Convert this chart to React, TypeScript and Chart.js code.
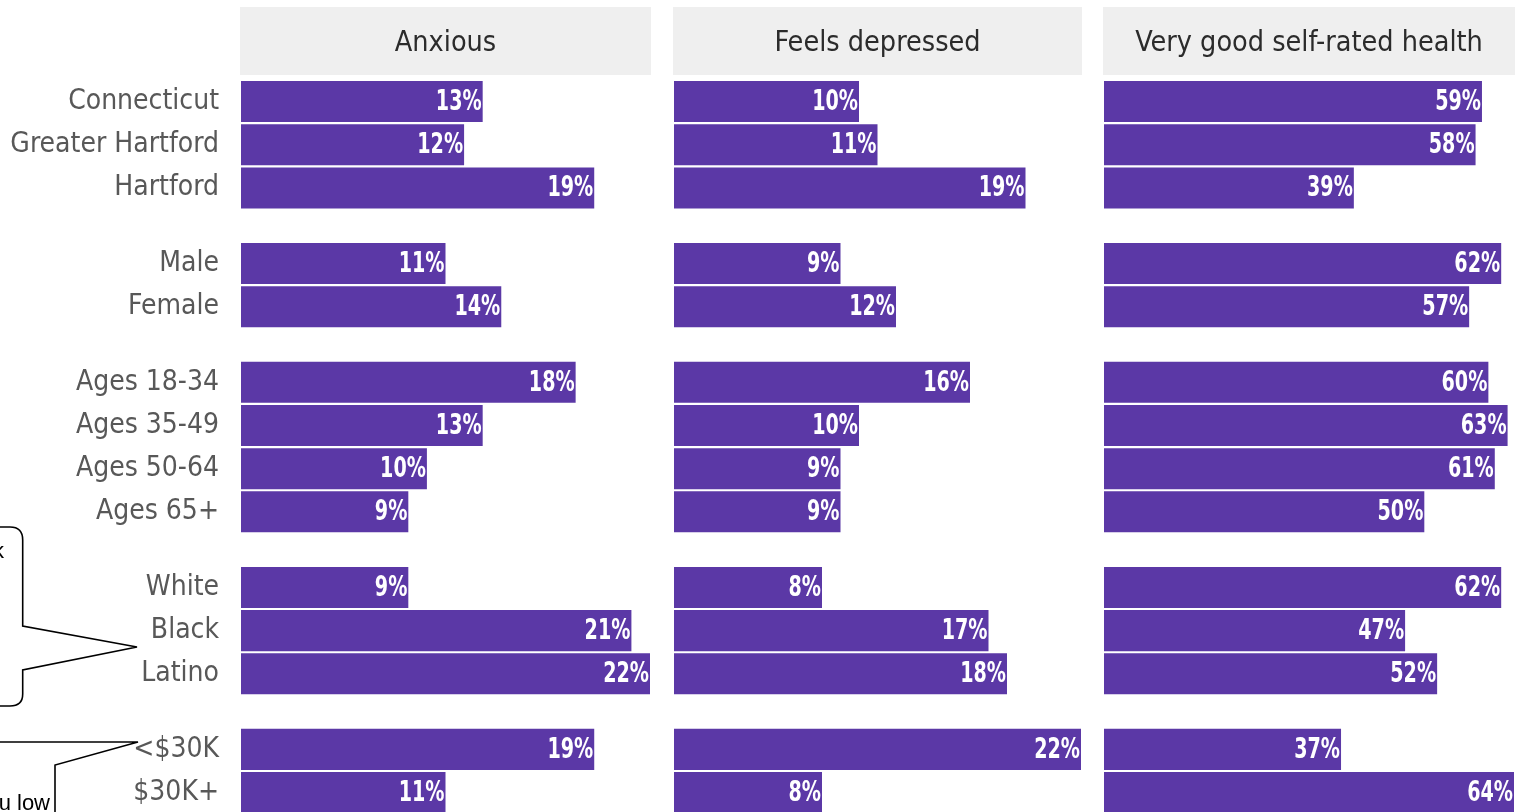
import React, { useEffect, useRef } from "react";
import { Chart, registerables } from "chart.js";

Chart.register(...registerables);

// ---------- data ----------
const categories = [
  "Connecticut",
  "Greater Hartford",
  "Hartford",
  "Male",
  "Female",
  "Ages 18-34",
  "Ages 35-49",
  "Ages 50-64",
  "Ages 65+",
  "White",
  "Black",
  "Latino",
  "<$30K",
  "$30K+",
];
const groupOf = [0, 0, 0, 1, 1, 2, 2, 2, 2, 3, 3, 3, 4, 4];
const anxious = [13, 12, 19, 11, 14, 18, 13, 10, 9, 9, 21, 22, 19, 11];
const depressed = [10, 11, 19, 9, 12, 16, 10, 9, 9, 8, 17, 18, 22, 8];
const goodHealth = [59, 58, 39, 62, 57, 60, 63, 61, 50, 62, 47, 52, 37, 64];
const panelTitles = ["Anxious", "Feels depressed", "Very good self-rated health"];

// ---------- style ----------
const GROUP_GAP = 0.75;
const positions = categories.map((_, i) => i + groupOf[i] * GROUP_GAP);
const BAR_COLOR = "#5b38a6";
const LABEL_FONT = "'DejaVu Sans Condensed', 'DejaVu Sans', sans-serif";
const VALUE_FONT = "'DejaVu Sans Condensed', 'DejaVu Sans', sans-serif";
const HEADER_FONT = "'DejaVu Sans Condensed', 'DejaVu Sans', sans-serif";

function labelFor(v: number): string {
  const idx = positions.findIndex((p) => Math.abs(p - v) < 1e-6);
  return idx >= 0 ? categories[idx] : "";
}

function headerPlugin(title: string) {
  return {
    id: "headerBox",
    beforeDraw(chart: any) {
      const { ctx, chartArea } = chart;
      const left = chartArea.left - 1;
      const right = chartArea.right + 1;
      ctx.save();
      ctx.fillStyle = "#efefef";
      ctx.fillRect(left, 7, right - left, 68);
      ctx.fillStyle = "#2b2b2b";
      ctx.font = `28.5px ${HEADER_FONT}`;
      ctx.textAlign = "center";
      ctx.textBaseline = "alphabetic";
      ctx.fillText(title, (left + right) / 2, 51);
      ctx.restore();
    },
  };
}

const valueLabels = {
  id: "valueLabels",
  afterDatasetsDraw(chart: any) {
    const ctx = chart.ctx;
    const meta = chart.getDatasetMeta(0);
    const ds = chart.data.datasets[0];
    meta.data.forEach((bar: any, i: number) => {
      const v = ds.data[i].x;
      ctx.save();
      ctx.translate(bar.x - 1, bar.y + 1);
      ctx.scale(0.76, 1);
      ctx.fillStyle = "#ffffff";
      ctx.font = `bold 28px ${VALUE_FONT}`;
      ctx.textAlign = "right";
      ctx.textBaseline = "middle";
      ctx.fillText(`${v}%`, 0, 0);
      ctx.restore();
    });
  },
};

type PanelSpec = {
  values: number[];
  title: string;
  showLabels: boolean;
  left: number;
  width: number;
};

const panels: PanelSpec[] = [
  { values: anxious, title: panelTitles[0], showLabels: true, left: 0, width: 651 },
  { values: depressed, title: panelTitles[1], showLabels: false, left: 673, width: 409 },
  { values: goodHealth, title: panelTitles[2], showLabels: false, left: 1103, width: 412 },
];

function Panel({ spec }: { spec: PanelSpec }) {
  const ref = useRef<HTMLCanvasElement | null>(null);
  useEffect(() => {
    if (!ref.current) return;
    const xMax = Math.max(...spec.values);
    const chart = new Chart(ref.current, {
      type: "bar",
      data: {
        datasets: [
          {
            data: spec.values.map((v, i) => ({ x: v, y: positions[i] })) as any,
            backgroundColor: BAR_COLOR,
            borderWidth: 0,
            categoryPercentage: 1,
            barPercentage: 0.95,
          } as any,
        ],
      },
      options: {
        indexAxis: "y",
        animation: false,
        responsive: false,
        maintainAspectRatio: false,
        layout: { padding: { top: 80, right: 1, left: spec.showLabels ? 0 : 1, bottom: 0 } },
        plugins: {
          legend: { display: false },
          tooltip: { enabled: false },
          title: { display: false },
        },
        scales: {
          x: { type: "linear", min: 0, max: xMax, display: false, offset: false },
          y: {
            type: "linear",
            reverse: true,
            offset: false,
            min: -0.5,
            max: 16.45,
            grid: { display: false, drawTicks: false, offset: false },
            border: { display: false },
            ticks: {
              display: spec.showLabels,
              autoSkip: false,
              padding: 22,
              color: "#585858",
              font: { family: LABEL_FONT, size: 28 },
              callback: (v: any) => labelFor(Number(v)),
            },
            afterBuildTicks: (s: any) => {
              s.ticks = positions.map((p) => ({ value: p }));
            },
            afterFit: (s: any) => {
              s.width = spec.showLabels ? 241 : 0;
              s.paddingTop = 0;
              s.paddingBottom = 0;
            },
          } as any,
        },
      },
      plugins: [headerPlugin(spec.title), valueLabels],
    });
    return () => chart.destroy();
  }, [spec]);
  return (
    <canvas
      ref={ref}
      width={spec.width}
      height={812}
      style={{ position: "absolute", left: spec.left, top: 0, width: spec.width, height: 812, display: "block" }}
    />
  );
}

function Callouts() {
  return (
    <svg
      width={240}
      height={812}
      style={{ position: "absolute", left: 0, top: 0, pointerEvents: "none" }}
    >
      <path
        d="M -20 527 L 10 527 Q 22.7 527 22.7 540 L 22.7 626 L 137 647 L 22.7 670 L 22.7 694 Q 22.7 706 10 706 L -20 706 Z"
        fill="#ffffff"
        stroke="#000000"
        strokeWidth={1.6}
      />
      <text x={4} y={558} textAnchor="end" fontFamily="'Liberation Sans', Arial, sans-serif" fontSize={22} fill="#000">
        k
      </text>
      <path
        d="M -20 742 L 138 742 L 55 765 L 55 830 L -20 830 Z"
        fill="#ffffff"
        stroke="#000000"
        strokeWidth={1.6}
      />
      <text x={50} y={810} textAnchor="end" fontFamily="'Liberation Sans', Arial, sans-serif" fontSize={22} fill="#000">
        u low
      </text>
    </svg>
  );
}

export default function App() {
  return (
    <div
      style={{
        position: "fixed",
        left: 0,
        top: 0,
        width: 1519,
        height: 812,
        overflow: "hidden",
        background: "#ffffff",
      }}
    >
      {panels.map((p, i) => (
        <Panel key={i} spec={p} />
      ))}
      <Callouts />
    </div>
  );
}
